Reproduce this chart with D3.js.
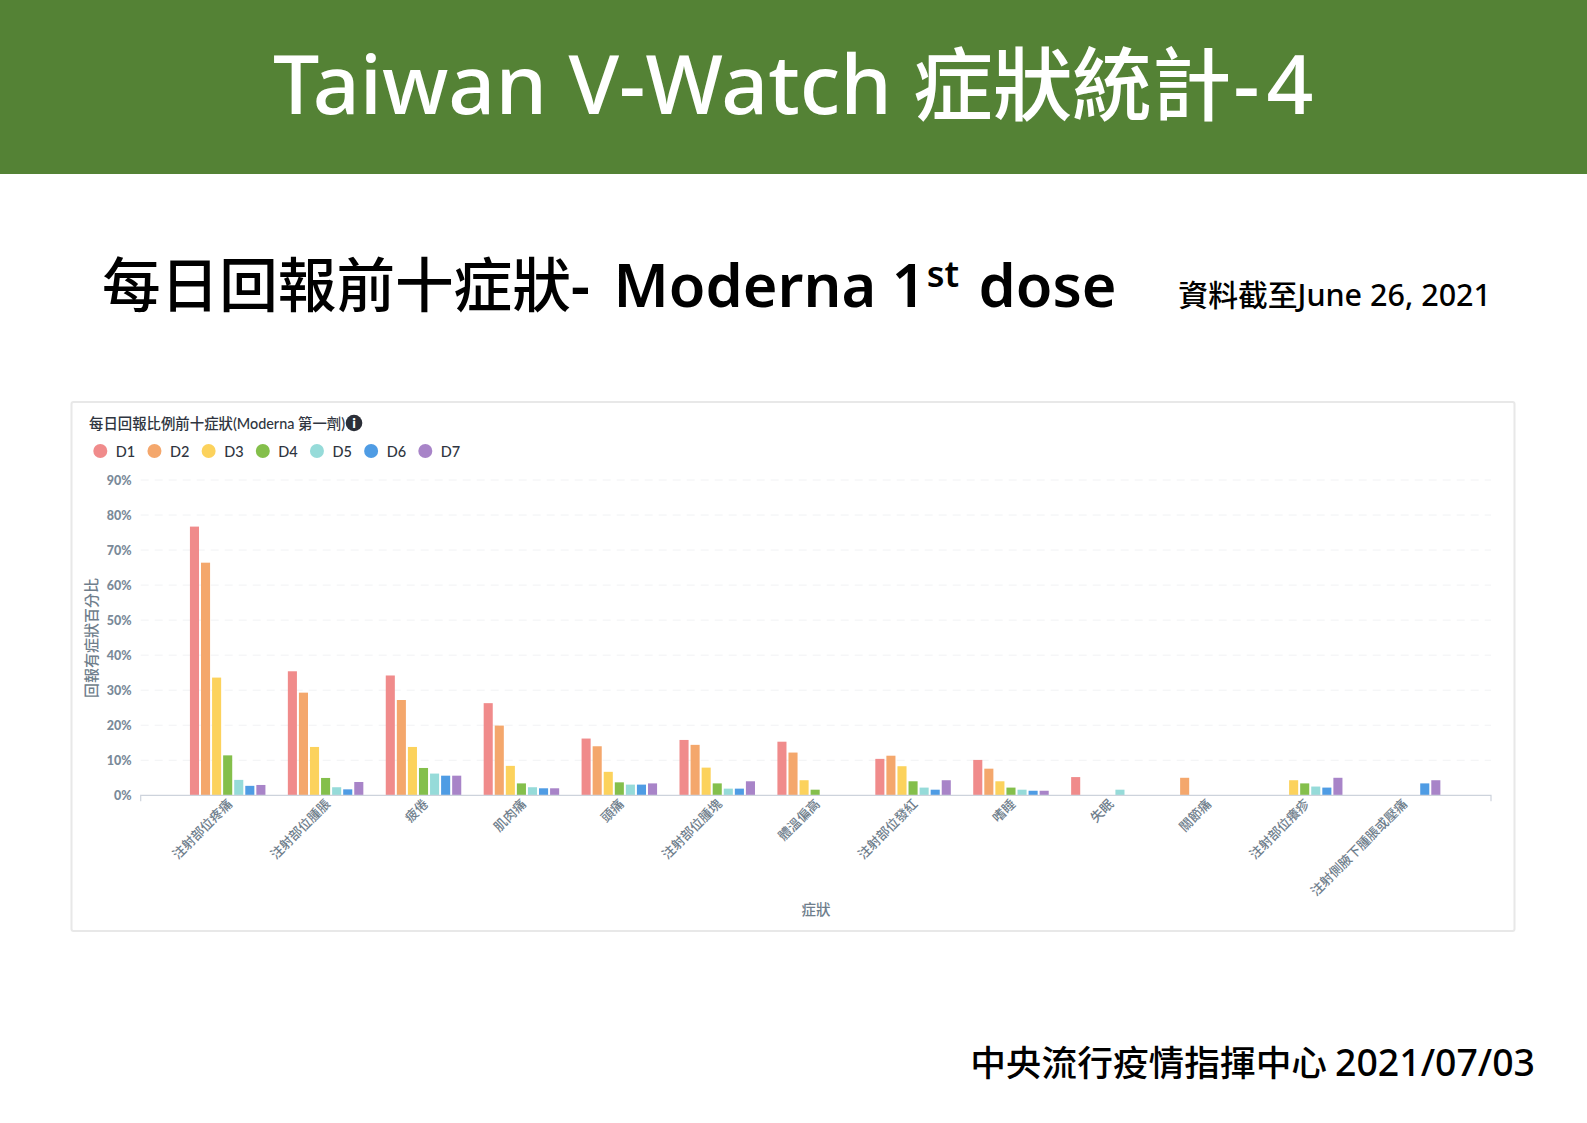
<!DOCTYPE html>
<html><head><meta charset="utf-8">
<script src="https://cdn.jsdelivr.net/npm/d3@7"></script>
<style>
html,body{margin:0;padding:0;background:#fff;overflow:hidden}
svg{display:block}
</style></head><body>
<svg id="c" width="1587" height="1123"></svg>
<script>
const categories=["注射部位疼痛","注射部位腫脹","疲倦","肌肉痛","頭痛","注射部位腫塊","體溫偏高","注射部位發紅","嗜睡","失眠","關節痛","注射部位癢疹","注射側腋下腫脹或壓痛"];
const days=["D1","D2","D3","D4","D5","D6","D7"];
const colors=["#f08b8b","#f4a76c","#fcd25c","#84bf4b","#96dbd9","#4f9ce4","#a884c8"];
const D1=[76.7,35.4,34.2,26.3,16.2,15.8,15.3,10.4,10.1,5.2,null,null,null];
const D2=[66.4,29.3,27.2,19.9,14,14.4,12.2,11.3,7.6,null,5,null,null];
const D3=[33.6,13.8,13.8,8.4,6.7,7.9,4.3,8.3,4,null,null,4.3,null];
const D4=[11.4,4.95,7.8,3.4,3.7,3.4,1.6,4,2.2,null,null,3.4,null];
const D5=[4.4,2.3,6.2,2.3,3.05,1.9,null,2.2,1.6,1.6,null,2.5,null];
const D6=[2.7,1.7,5.6,2,3.05,1.9,null,1.6,1.3,null,null,2.2,3.4];
const D7=[2.95,3.8,5.6,2,3.4,4,null,4.3,1.3,null,null,5,4.3];
const series=[D1,D2,D3,D4,D5,D6,D7];
const yTicks=[0,10,20,30,40,50,60,70,80,90];

const svg=d3.select("#c");
const CJK='"Noto Sans CJK TC","Noto Sans",sans-serif';
const SANS='"Noto Sans","Noto Sans CJK TC",sans-serif';
const LAT='Lato,"Noto Sans CJK TC",sans-serif';

function runs(sel,parts){
  parts.forEach(p=>{
    const t=sel.append("tspan").text(p.t).style("font-size",p.s+"px").style("font-family",p.f||CJK);
    if(p.dy) t.attr("dy",p.dy);
    if(p.dx) t.attr("dx",p.dx);
    if(p.ls) t.style("letter-spacing",p.ls+"px");
    if(p.w) t.style("font-weight",p.w);
  });
}

// banner
svg.append("rect").attr("width",1587).attr("height",174).attr("fill","#548235");
const bt=svg.append("text").attr("x",273).attr("y",114).attr("fill","#fff").style("font-weight",500).attr("xml:space","preserve");
runs(bt,[{t:"Taiwan V-Watch ",s:82.3,f:SANS},{t:"症狀統計",s:79.5},{t:"-4",s:82,f:SANS,ls:7,dx:2}]);

// headings
const h=svg.append("text").attr("x",102).attr("y",307).attr("fill","#000").style("font-weight",500);
runs(h,[{t:"每日回報前十症狀",s:58.6},{t:"- ",s:60,f:SANS,ls:4,w:600},{t:"Moderna 1",s:59.5,f:SANS,w:600},{t:"st",s:36,f:SANS,dy:-20,dx:1,w:600},{t:" dose",s:59.5,f:SANS,dy:20,dx:4,w:600}]);
const dt=svg.append("text").attr("x",1491).attr("y",306).attr("text-anchor","end").attr("fill","#000").style("font-weight",500);
runs(dt,[{t:"資料截至",s:29.8},{t:"June 26, 2021",s:30.5,f:SANS}]);
const ft=svg.append("text").attr("x",1535).attr("y",1076).attr("text-anchor","end").attr("fill","#000").style("font-weight",500);
runs(ft,[{t:"中央流行疫情指揮中心 ",s:35.7},{t:"2021/07/03",s:37.4,f:SANS}]);

// card
svg.append("rect").attr("x",71.5).attr("y",402).attr("width",1443).attr("height",529).attr("rx",2)
  .attr("fill","#fff").attr("stroke","#e8e8e8").attr("stroke-width",2);

const yPx=[795.3,480];
const xRange=[140.7,1491];
const y=d3.scaleLinear().domain([0,90]).range(yPx);
const x0=d3.scaleBand().domain(categories).range([140,1490.3]).paddingInner(.229).paddingOuter(.51);
const x1=d3.scaleBand().domain(days).range([0,x0.bandwidth()]).paddingInner(.18).paddingOuter(0);

// grid
const g=svg.append("g");
g.append("g").selectAll("line").data(yTicks.slice(1)).join("line")
  .attr("x1",xRange[0]).attr("x2",xRange[1]).attr("y1",d=>y(d)).attr("y2",d=>y(d))
  .attr("stroke","#f1f2f4").attr("stroke-dasharray","8 6");

// y axis
const yAxis=g.append("g").attr("transform",`translate(${xRange[0]},0)`)
  .call(d3.axisLeft(y).tickValues(yTicks).tickFormat(d=>d+"%").tickSize(0).tickPadding(9));
yAxis.select(".domain").remove();
yAxis.selectAll("text").attr("fill","#7a8a99").attr("dy","0.36em").style("font-family",LAT).style("font-size","12.5px").style("font-weight",900);

// bars
const groups=g.append("g").selectAll("g").data(categories).join("g")
  .attr("transform",d=>`translate(${x0(d)},0)`);
groups.selectAll("rect").data((d,i)=>days.map((k,j)=>({k,j,v:series[j][i]})).filter(o=>o.v!=null)).join("rect")
  .attr("x",o=>x1(o.k)).attr("width",x1.bandwidth())
  .attr("y",o=>y(o.v)).attr("height",o=>y(0)-y(o.v)).attr("fill",o=>colors[o.j]);

// x axis
const xAxis=g.append("g").attr("transform",`translate(0,${y(0)})`)
  .call(d3.axisBottom(x0).tickSize(0).tickPadding(0));
xAxis.select(".domain").attr("stroke","#cdd3dc").attr("stroke-width",1.2).attr("d",`M${xRange[0]},6V0H${xRange[1]}V6`);
xAxis.selectAll("text").attr("fill","#6f7e8c").attr("text-anchor","end")
  .style("font-family",CJK).style("font-size","13px").style("font-weight",500)
  .attr("x",0).attr("y",0).attr("dy",0)
  .attr("transform","translate(3,7) rotate(-45)")
  .attr("dominant-baseline","middle");

// axis titles
svg.append("text").attr("transform","translate(97,638) rotate(-90)").attr("text-anchor","middle")
  .attr("fill","#6f7e8c").style("font-family",CJK).style("font-size","15px").style("font-weight",500).text("回報有症狀百分比");
svg.append("text").attr("x",816).attr("y",915).attr("text-anchor","middle")
  .attr("fill","#6f7e8c").style("font-family",CJK).style("font-size","14.5px").style("font-weight",500).text("症狀");

// chart title + info icon
svg.append("text").attr("x",89).attr("y",429).attr("fill","#2f3540")
  .style("font-family",LAT).style("font-size","14.4px").style("font-weight",500).text("每日回報比例前十症狀(Moderna 第一劑)");
svg.append("circle").attr("cx",354).attr("cy",423).attr("r",8.3).attr("fill","#2b2f38");
svg.append("text").attr("x",354).attr("y",428).attr("text-anchor","middle").attr("fill","#fff")
  .style("font-family",LAT).style("font-size","14px").style("font-weight",900).text("i");

// legend
const legendX=d3.scalePoint().domain(days).range([100.3,425.3]);
const lg=svg.append("g").selectAll("g").data(days).join("g").attr("transform",d=>`translate(${legendX(d)},451)`);
lg.append("circle").attr("r",7).attr("fill",(d,i)=>colors[i]);
lg.append("text").attr("x",15.5).attr("y",5.5).attr("fill","#2f3540")
  .style("font-family",LAT).style("font-size","14.5px").style("font-weight",500).text(d=>d);
</script>
</body></html>
